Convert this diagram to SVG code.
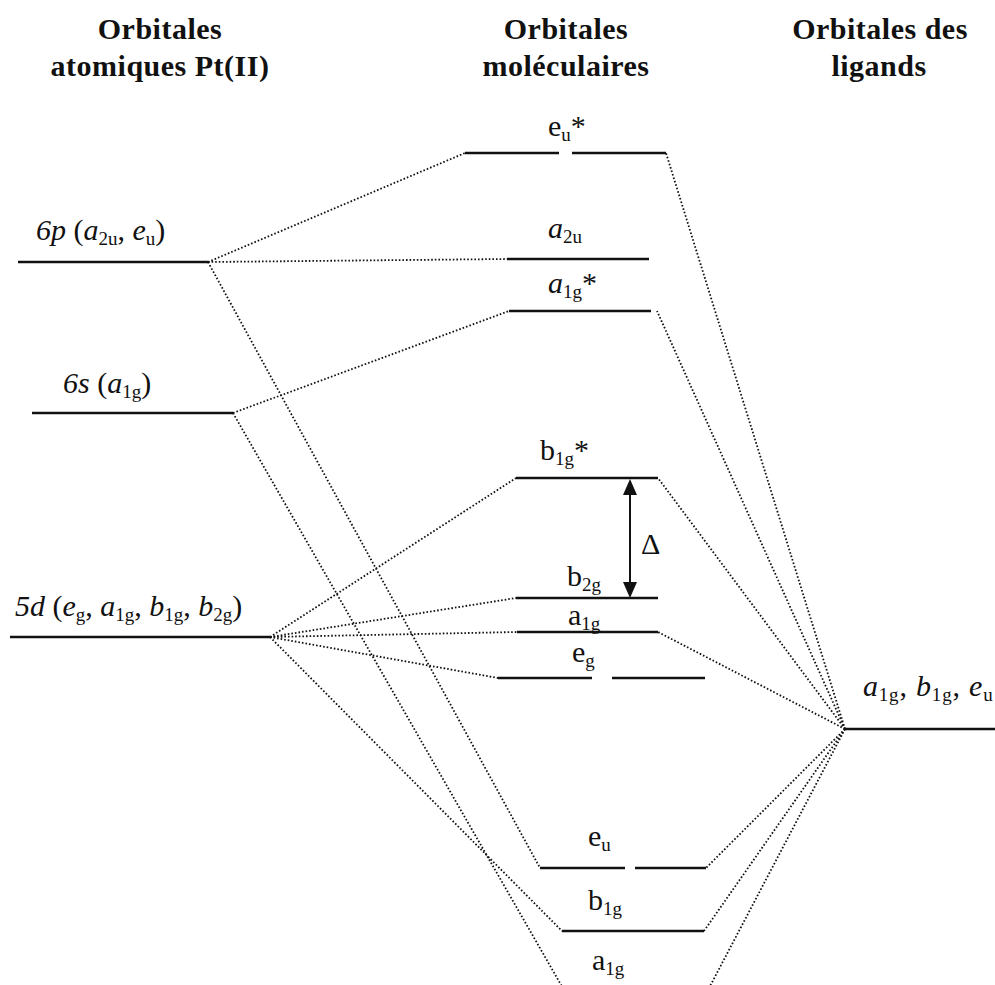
<svg xmlns="http://www.w3.org/2000/svg" width="995" height="985" viewBox="0 0 995 985">
<style>
.hdr{font-family:"Liberation Serif","Times New Roman",serif;font-weight:bold;font-size:30px;letter-spacing:0.5px;fill:#111;text-anchor:middle}
.lbl{font-family:"Liberation Serif","Times New Roman",serif;font-size:30px;fill:#111}
.it{font-style:italic}
.sub{font-size:19px}
.lvl{stroke:#111;stroke-width:2.6;fill:none}
.con{stroke:#111;stroke-width:1.8;stroke-dasharray:1.6 2;fill:none}
</style>
<rect width="995" height="985" fill="#fff"/>
<g id="headers">
<text class="hdr" x="160" y="39">Orbitales</text>
<text class="hdr" x="160" y="76">atomiques Pt(II)</text>
<text class="hdr" x="566" y="39">Orbitales</text>
<text class="hdr" x="566" y="76">moléculaires</text>
<text class="hdr" x="880" y="39">Orbitales des</text>
<text class="hdr" x="879" y="76">ligands</text>
</g>
<g id="connectors">
<line class="con" x1="208" y1="262" x2="465" y2="153"/>
<line class="con" x1="208" y1="262" x2="507" y2="259"/>
<line class="con" x1="208" y1="262" x2="540" y2="868"/>
<line class="con" x1="233" y1="413" x2="509" y2="311"/>
<line class="con" x1="233" y1="413" x2="564" y2="990"/>
<line class="con" x1="270" y1="637" x2="516" y2="478"/>
<line class="con" x1="270" y1="637" x2="516" y2="598"/>
<line class="con" x1="270" y1="637" x2="517" y2="632"/>
<line class="con" x1="270" y1="637" x2="498" y2="678"/>
<line class="con" x1="270" y1="637" x2="562" y2="931"/>
<line class="con" x1="845" y1="729" x2="666" y2="153"/>
<line class="con" x1="845" y1="729" x2="657" y2="311"/>
<line class="con" x1="845" y1="729" x2="658" y2="478"/>
<line class="con" x1="845" y1="729" x2="658" y2="632"/>
<line class="con" x1="845" y1="729" x2="706" y2="868"/>
<line class="con" x1="845" y1="729" x2="704" y2="931"/>
<line class="con" x1="845" y1="729" x2="708" y2="990"/>
</g>
<g id="ao-6p">
<line class="lvl" x1="18" y1="262" x2="208" y2="262"/>
<text class="lbl" x="36" y="240"><tspan class="it">6p</tspan> (<tspan class="it">a</tspan><tspan class="sub" dy="5">2u</tspan><tspan dy="-5">, </tspan><tspan class="it">e</tspan><tspan class="sub" dy="5">u</tspan><tspan dy="-5">)</tspan></text>
</g>
<g id="ao-6s">
<line class="lvl" x1="32" y1="413" x2="233" y2="413"/>
<text class="lbl" x="63" y="393"><tspan class="it">6s</tspan> (<tspan class="it">a</tspan><tspan class="sub" dy="5">1g</tspan><tspan dy="-5">)</tspan></text>
</g>
<g id="ao-5d">
<line class="lvl" x1="10" y1="637" x2="270" y2="637"/>
<text class="lbl" x="15" y="616"><tspan class="it">5d</tspan> (<tspan class="it">e</tspan><tspan class="sub" dy="5">g</tspan><tspan dy="-5">, </tspan><tspan class="it">a</tspan><tspan class="sub" dy="5">1g</tspan><tspan dy="-5">, </tspan><tspan class="it">b</tspan><tspan class="sub" dy="5">1g</tspan><tspan dy="-5">, </tspan><tspan class="it">b</tspan><tspan class="sub" dy="5">2g</tspan><tspan dy="-5">)</tspan></text>
</g>
<g id="lig">
<line class="lvl" x1="845" y1="729" x2="995" y2="729"/>
<text class="lbl" x="863" y="696" letter-spacing="0.8"><tspan class="it">a</tspan><tspan class="sub" dy="5">1g</tspan><tspan dy="-5">, </tspan><tspan class="it">b</tspan><tspan class="sub" dy="5">1g</tspan><tspan dy="-5">, </tspan><tspan class="it">e</tspan><tspan class="sub" dy="5">u</tspan></text>
</g>
<g id="mo-eu-star">
<line class="lvl" x1="465" y1="153" x2="559" y2="153"/>
<line class="lvl" x1="572" y1="153" x2="666" y2="153"/>
<text class="lbl" x="548" y="136">e<tspan class="sub" dy="5">u</tspan><tspan dy="-5">*</tspan></text>
</g>
<g id="mo-a2u">
<line class="lvl" x1="507" y1="259" x2="649" y2="259"/>
<text class="lbl" x="548" y="238"><tspan class="it">a</tspan><tspan class="sub" dy="5">2u</tspan></text>
</g>
<g id="mo-a1g-star">
<line class="lvl" x1="509" y1="311" x2="651" y2="311"/>
<text class="lbl" x="548" y="293"><tspan class="it">a</tspan><tspan class="sub" dy="5">1g</tspan><tspan dy="-5">*</tspan></text>
</g>
<g id="mo-b1g-star">
<line class="lvl" x1="516" y1="478" x2="658" y2="478"/>
<text class="lbl" x="540" y="460">b<tspan class="sub" dy="5">1g</tspan><tspan dy="-5">*</tspan></text>
</g>
<g id="delta">
<line x1="630" y1="492" x2="630" y2="585" stroke="#111" stroke-width="2"/>
<polygon points="630,479 623,495 637,495" fill="#111"/>
<polygon points="630,598 623,582 637,582" fill="#111"/>
<text class="lbl" x="641" y="554">Δ</text>
</g>
<g id="mo-b2g">
<line class="lvl" x1="516" y1="598" x2="658" y2="598"/>
<text class="lbl" x="567" y="586">b<tspan class="sub" dy="5">2g</tspan></text>
</g>
<g id="mo-a1g">
<line class="lvl" x1="517" y1="632" x2="658" y2="632"/>
<text class="lbl" x="568" y="625">a<tspan class="sub" dy="5">1g</tspan></text>
</g>
<g id="mo-eg">
<line class="lvl" x1="498" y1="678" x2="592" y2="678"/>
<line class="lvl" x1="612" y1="678" x2="705" y2="678"/>
<text class="lbl" x="572" y="662">e<tspan class="sub" dy="5">g</tspan></text>
</g>
<g id="mo-eu">
<line class="lvl" x1="540" y1="868" x2="625" y2="868"/>
<line class="lvl" x1="635" y1="868" x2="706" y2="868"/>
<text class="lbl" x="588" y="846">e<tspan class="sub" dy="5">u</tspan></text>
</g>
<g id="mo-b1g">
<line class="lvl" x1="562" y1="931" x2="704" y2="931"/>
<text class="lbl" x="588" y="910">b<tspan class="sub" dy="5">1g</tspan></text>
</g>
<g id="mo-a1g-bottom">
<text class="lbl" x="592" y="970">a<tspan class="sub" dy="5">1g</tspan></text>
</g>
</svg>
